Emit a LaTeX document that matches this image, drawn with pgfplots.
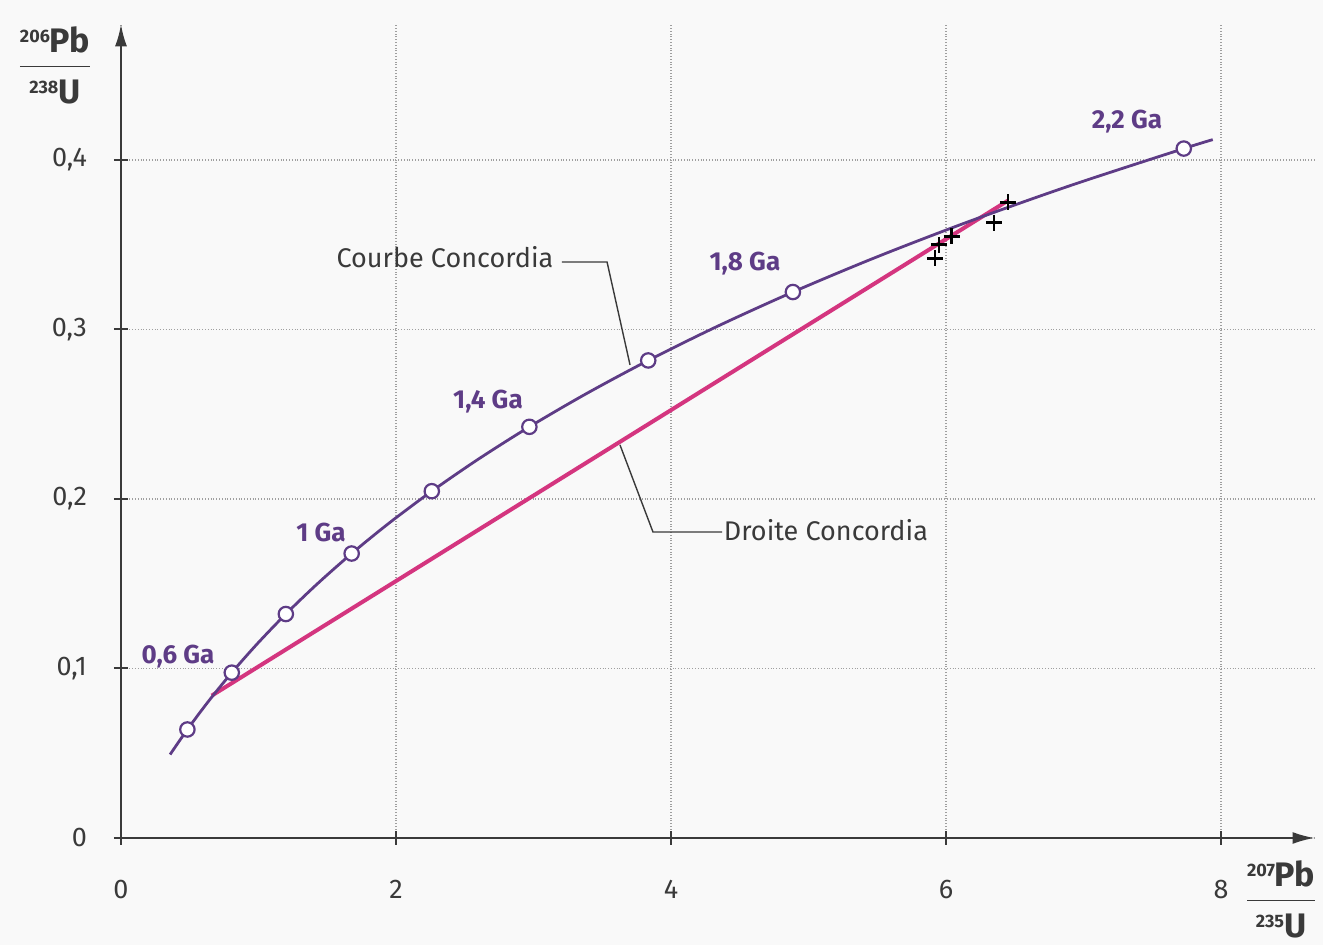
\documentclass[border=0pt]{standalone}
\usepackage{fontspec}
\setmainfont{Fira Sans}
\usepackage{pgfplots}
\pgfplotsset{compat=1.18}
\usetikzlibrary{arrows.meta}
\definecolor{curve}{HTML}{5E3C86}
\definecolor{droite}{HTML}{D4357F}
\definecolor{txt}{HTML}{3A3A3A}
\pgfplotstableread{
x y
0.35705 0.04926
0.48282 0.06402
0.63627 0.08065
0.80556 0.09754
0.99249 0.11470
1.19877 0.13213
1.42636 0.14983
1.67744 0.16782
1.95455 0.18608
2.26033 0.20460
2.59779 0.22344
2.97005 0.24257
3.38102 0.26199
3.83436 0.28172
4.33459 0.30176
4.88660 0.32210
5.49585 0.34277
6.16850 0.36375
6.91043 0.38507
7.72914 0.40673
7.94000 0.41200
}\concordia
\pgfplotstableread{
x y
0.48282 0.06402
0.80556 0.09754
1.19877 0.13213
1.67744 0.16782
2.26033 0.20460
2.97005 0.24257
3.83436 0.28172
4.88660 0.32210
7.72914 0.40673
}\ages
\pgfplotstableread{
x y
0.66 0.084
6.45 0.376
}\droite
\pgfplotstableread{
x y
5.92 0.342
5.95 0.350
6.04 0.355
6.35 0.363
6.45 0.375
}\samples
\newcommand{\ratio}[4]{\begin{tabular}{@{}c@{}}{\fontsize{9}{10}\selectfont\bfseries\raisebox{5pt}{#1}}\textbf{\fontsize{17}{18}\selectfont #2}\\[2pt]\hline\rule{0pt}{18pt}{\fontsize{9}{10}\selectfont\bfseries\raisebox{5pt}{#3}}\textbf{\fontsize{17}{18}\selectfont #4}\end{tabular}}
\begin{document}
\begin{tikzpicture}[font=\fontsize{13.5}{16}\selectfont\color{txt}]
\path[use as bounding box, fill=gray!5] (-60.5pt,-53.5pt) rectangle (601pt,419pt);
\begin{axis}[
  anchor=origin, at={(0pt,0pt)},
  x=68.75pt, y=847.5pt,
  xmin=0, xmax=8.68, ymin=0, ymax=0.48,
  axis lines=left,
  axis line style={line width=1pt, txt, -{Latex[length=11pt,width=6pt]}},
  xtick={0,2,4,6,8}, ytick={0,0.1,0.2,0.3,0.4},
  major tick length=7pt, tick align=center,
  tick style={line width=1pt, txt},
  grid=major, grid style={densely dotted, gray!75, line width=0.6pt},
  /pgf/number format/use comma,
  /pgf/number format/assume math mode=true,
  yticklabel style={xshift=-10pt, font=\fontsize{13.5}{16}\selectfont\color{txt}},
  xticklabel style={yshift=-14pt, font=\fontsize{13.5}{16}\selectfont\color{txt}},
  clip=false,
]
\addplot[no marks, droite, line width=2pt] table {\droite};
\addplot[no marks, curve, line width=1.4pt, smooth] table {\concordia};
\addplot[only marks, mark=*, mark size=3.6pt, mark options={fill=white, draw=curve, line width=1.1pt}] table {\ages};
\addplot[only marks, mark=+, mark size=4pt, mark options={black, line width=1.3pt}] table {\samples};

\draw[txt, line width=0.7pt] (axis cs:3.207,0.3398) -- (axis cs:3.535,0.3398) -- (axis cs:3.702,0.2791);
\draw[txt, line width=0.7pt] (axis cs:3.629,0.2319) -- (axis cs:3.869,0.1805) -- (axis cs:4.371,0.1805);

\node at (axis cs:2.356,0.3428) {Courbe Concordia};
\node at (axis cs:5.127,0.1817) {Droite Concordia};

\node[curve, font=\fontsize{13}{15}\selectfont\bfseries] at (axis cs:0.415,0.1068) {0,6 Ga};
\node[curve, font=\fontsize{13}{15}\selectfont\bfseries] at (axis cs:1.455,0.1805) {1 Ga};
\node[curve, font=\fontsize{13}{15}\selectfont\bfseries] at (axis cs:2.669,0.2572) {1,4 Ga};
\node[curve, font=\fontsize{13}{15}\selectfont\bfseries] at (axis cs:4.538,0.3386) {1,8 Ga};
\node[curve, font=\fontsize{13}{15}\selectfont\bfseries] at (axis cs:7.316,0.4224) {2,2 Ga};
\end{axis}
\node[inner sep=0pt] at (-33pt,384pt) {\ratio{206}{Pb}{238}{U}};
\node[inner sep=0pt] at (580pt,-33pt) {\ratio{207}{Pb}{235}{U}};
\end{tikzpicture}
\end{document}
